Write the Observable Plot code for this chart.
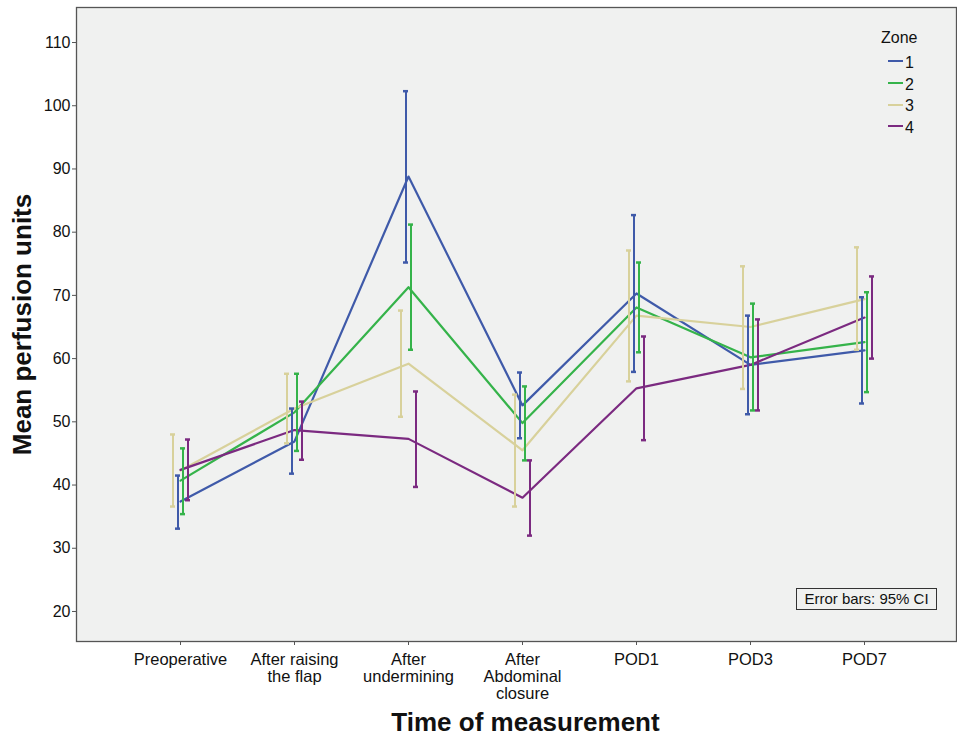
<!DOCTYPE html>
<html>
<head>
<meta charset="utf-8">
<script src="https://cdn.jsdelivr.net/npm/d3@7"></script>
<script src="https://cdn.jsdelivr.net/npm/@observablehq/plot@0.6"></script>
<style>
  html, body { margin: 0; padding: 0; background: #fff; }
  #wrap { position: relative; width: 957px; height: 735px; font-family: "Liberation Sans", Arial, sans-serif; }
  #wrap svg { position: absolute; left: 0; top: 0; }
  .legend { position: absolute; left: 874px; top: 28px; font-size: 16px; color: #111; }
  .legend .title { margin-left: 7px; line-height: 20px; margin-bottom: 4px; }
  .legend .item { display: flex; align-items: center; height: 21.7px; margin-left: 14px; }
  .legend .sw { width: 15px; height: 2px; margin-right: 2px; margin-top: -3px; }
  .note { position: absolute; left: 796px; top: 588px; width: 139px; height: 20px; border: 1px solid #333; font-size: 15px; line-height: 20px; text-align: center; color: #111; background: #f0f1f0; }
</style>
</head>
<body>
<div id="wrap"></div>
<script>
// Categories (tick labels, with line breaks as in the chart)
const times = ["Preoperative", "After raising\nthe flap", "After\nundermining", "After\nAbdominal\nclosure", "POD1", "POD3", "POD7"];
const zones = ["1", "2", "3", "4"];
const zoneColors = ["#3f5aa9", "#35b34a", "#d8d19b", "#7b2a80"];

// Means and 95% CI bounds per zone
const zone1Mean = [37.4, 46.9, 88.8, 52.6, 70.3, 59.0, 61.3];
const zone1Lo   = [33.1, 41.8, 75.2, 47.4, 57.9, 51.2, 52.9];
const zone1Hi   = [41.5, 52.1, 102.3, 57.8, 82.7, 66.8, 69.7];
const zone2Mean = [40.7, 51.5, 71.3, 49.8, 68.1, 60.2, 62.6];
const zone2Lo   = [35.4, 45.4, 61.4, 43.9, 61.0, 51.8, 54.7];
const zone2Hi   = [45.8, 57.6, 81.2, 55.6, 75.2, 68.7, 70.5];
const zone3Mean = [42.3, 52.1, 59.2, 45.5, 66.8, 65.0, 69.4];
const zone3Lo   = [36.6, 46.6, 50.8, 36.6, 56.4, 55.2, 61.4];
const zone3Hi   = [48.0, 57.6, 67.6, 54.3, 77.1, 74.6, 77.6];
const zone4Mean = [42.4, 48.7, 47.3, 38.0, 55.3, 59.0, 66.5];
const zone4Lo   = [37.6, 44.0, 39.7, 32.0, 47.1, 51.8, 60.0];
const zone4Hi   = [47.2, 53.2, 54.8, 43.9, 63.5, 66.2, 73.0];

const yTicks = [20, 30, 40, 50, 60, 70, 80, 90, 100, 110];

const series = [
  {zone: "1", mean: zone1Mean, lo: zone1Lo, hi: zone1Hi, dx: -2.5},
  {zone: "2", mean: zone2Mean, lo: zone2Lo, hi: zone2Hi, dx: 2.5},
  {zone: "3", mean: zone3Mean, lo: zone3Lo, hi: zone3Hi, dx: -7.5},
  {zone: "4", mean: zone4Mean, lo: zone4Lo, hi: zone4Hi, dx: 7.5}
];
const rows = series.flatMap(s => times.map((t, i) => ({time: t, zone: s.zone, mean: s.mean[i], lo: s.lo[i], hi: s.hi[i]})));
const colorOf = z => zoneColors[zones.indexOf(z)];

const errMarks = series.flatMap(s => {
  const d = rows.filter(r => r.zone === s.zone);
  const c = colorOf(s.zone);
  return [
    Plot.ruleX(d, {x: "time", y1: "lo", y2: "hi", stroke: c, strokeWidth: 2, dx: s.dx}),
    Plot.ruleY(d, {y: "hi", x1: "time", x2: "time", insetLeft: -2.5, insetRight: -2.5, stroke: c, strokeWidth: 2.5, dx: s.dx}),
    Plot.ruleY(d, {y: "lo", x1: "time", x2: "time", insetLeft: -2.5, insetRight: -2.5, stroke: c, strokeWidth: 2.5, dx: s.dx})
  ];
});

const lineMarks = series.map(s => Plot.line(rows.filter(r => r.zone === s.zone), {x: "time", y: "mean", stroke: colorOf(s.zone), strokeWidth: 2.2}));

const chart = Plot.plot({
  width: 957,
  height: 735,
  marginLeft: 76,
  marginRight: 1,
  marginTop: 7,
  marginBottom: 94,
  style: {fontFamily: "'Liberation Sans', Arial, sans-serif", fontSize: "16px", color: "#111", background: "transparent"},
  x: {type: "point", domain: times, range: [177.6, 866.7], padding: 0, label: null},
  y: {domain: [15.25, 115.54], label: null},
  marks: [
    Plot.frame({fill: "#f0f1f0", stroke: "none"}),
    ...lineMarks,
    ...errMarks,
    Plot.frame({stroke: "#555", strokeWidth: 1.3}),
    Plot.axisY(yTicks, {tickSize: 4, tickPadding: 2, fontSize: 16, stroke: "#555"}),
    Plot.axisX(times, {tickSize: 4, tickPadding: 7, fontSize: 16.5, lineHeight: 1.03, stroke: "#555"}),
    Plot.text(["Mean perfusion units"], {frameAnchor: "left", rotate: -90, textAnchor: "middle", dx: -54, dy: 0, fontSize: 26, fontWeight: "bold", fill: "#111"}),
    Plot.text(["Time of measurement"], {frameAnchor: "bottom", dx: 9, dy: 89, fontSize: 26, fontWeight: "bold", fill: "#111"})
  ]
});

const wrap = document.getElementById("wrap");
wrap.appendChild(chart);

// Legend
const legend = document.createElement("div");
legend.className = "legend";
legend.innerHTML = `<div class="title">Zone</div>` + zones.map((z, i) =>
  `<div class="item"><span class="sw" style="background:${zoneColors[i]}"></span><span>${z}</span></div>`).join("");
wrap.appendChild(legend);

const note = document.createElement("div");
note.className = "note";
note.textContent = "Error bars: 95% CI";
wrap.appendChild(note);
</script>
</body>
</html>
